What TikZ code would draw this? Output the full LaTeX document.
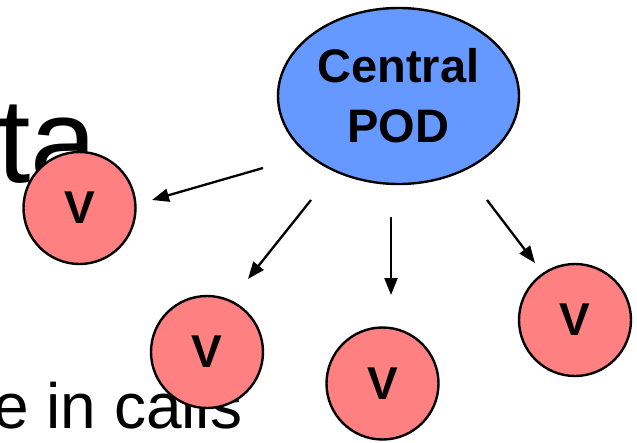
\documentclass[tikz,border=0pt]{standalone}
\usepackage{fontspec}
\setmainfont{Liberation Sans}
\usetikzlibrary{arrows.meta,shapes.geometric}
\definecolor{podblue}{RGB}{102,153,255}
\definecolor{vred}{RGB}{255,128,128}
\tikzset{
  podshape/.style={ellipse, draw=black, line width=2.4pt, fill=podblue, minimum width=241pt, minimum height=176pt, inner sep=0pt, align=center, font=\fontsize{47}{60}\selectfont\bfseries},
  vnode/.style={circle, draw=black, line width=2.4pt, fill=vred, minimum size=112pt, inner sep=0pt, font=\fontsize{46}{46}\selectfont\bfseries},
  bgtext/.style={inner sep=0pt, anchor=base west, text=black},
  conn/.style={line width=2.3pt, -{Triangle[length=17pt,width=13pt]}}
}
\begin{document}
\begin{tikzpicture}[x=1pt,y=-1pt]
\useasboundingbox (0,0) rectangle (637,442);
\clip (0,0) rectangle (637,442);
\node[bgtext, font=\fontsize{120}{120}\selectfont] (ta) at (-3,182) {ta};
\node[bgtext, font=\fontsize{64}{64}\selectfont] (calls) at (-7,428) {e in calls};
\node[podshape] (pod) at (398.5,96) {Central\\POD};
\node[vnode] (v1) at (79.5,208) {V};
\node[vnode] (v2) at (207,352) {V};
\node[vnode] (v3) at (382.5,383.5) {V};
\node[vnode] (v4) at (575,320) {V};
\coordinate (s1) at (263,168);
\coordinate (e1) at (152,200);
\coordinate (s2) at (311,200);
\coordinate (e2) at (248,279);
\coordinate (s3) at (391,217);
\coordinate (e3) at (391,295);
\coordinate (s4) at (487,200);
\coordinate (e4) at (535,263);
\draw[conn] (s1) -- (e1);
\draw[conn] (s2) -- (e2);
\draw[conn] (s3) -- (e3);
\draw[conn] (s4) -- (e4);
\end{tikzpicture}
\end{document}
